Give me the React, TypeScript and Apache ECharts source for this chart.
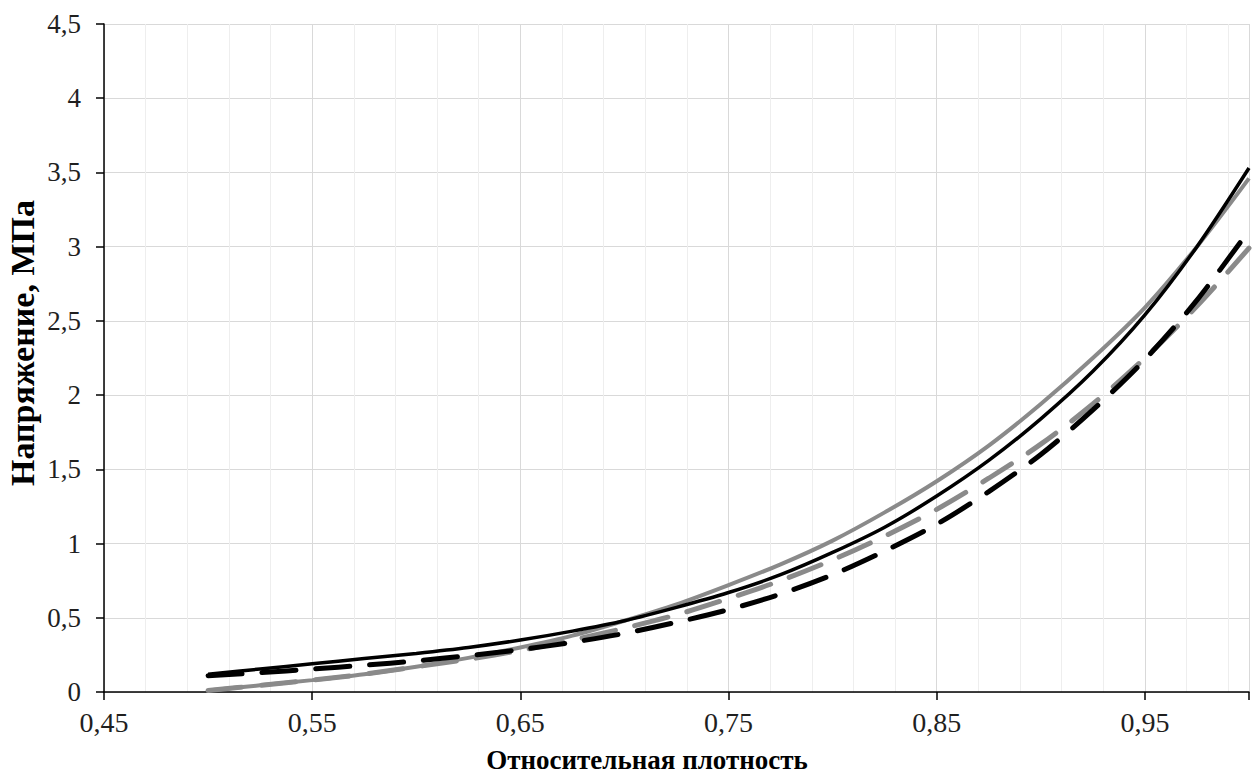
import React, { useEffect, useRef } from "react";
import * as echarts from "echarts";

const density = [
  0.5, 0.525, 0.55, 0.575, 0.6, 0.625, 0.65, 0.675, 0.7, 0.725, 0.75,
  0.775, 0.8, 0.825, 0.85, 0.875, 0.9, 0.925, 0.95, 0.975, 1.0,
];
const blackSolid = [
  0.12, 0.155, 0.19, 0.225, 0.26, 0.3, 0.35, 0.41, 0.48, 0.57, 0.67,
  0.79, 0.94, 1.11, 1.32, 1.56, 1.84, 2.16, 2.54, 3.0, 3.53,
];
const graySolid = [
  0.01, 0.045, 0.08, 0.12, 0.17, 0.23, 0.3, 0.38, 0.48, 0.59, 0.72,
  0.86, 1.02, 1.21, 1.42, 1.66, 1.94, 2.25, 2.59, 3.0, 3.46,
];
const blackDashed = [
  0.11, 0.13, 0.155, 0.18, 0.21, 0.245, 0.285, 0.335, 0.395, 0.47, 0.555,
  0.66, 0.79, 0.95, 1.13, 1.35, 1.6, 1.9, 2.24, 2.64, 3.11,
];
const grayDashed = [
  0.01, 0.045, 0.08, 0.12, 0.17, 0.22, 0.28, 0.35, 0.43, 0.52, 0.63,
  0.75, 0.89, 1.05, 1.23, 1.44, 1.67, 1.94, 2.25, 2.6, 2.99,
];

const xTitle = "Относительная плотность";
const yTitle = "Напряжение, МПа";

const pairs = (ys: number[]) => density.map((x, i) => [x, ys[i]]);

export default function App() {
  const ref = useRef<HTMLDivElement>(null);
  useEffect(() => {
    document.body.style.margin = "0";
    const chart = echarts.init(ref.current!, null, { renderer: "svg" });
    const font = "'Liberation Serif', 'Times New Roman', serif";
    const solid = (name: string, ys: number[], color: string, w: number) => ({
      name,
      type: "line",
      data: pairs(ys),
      smooth: 0.3,
      showSymbol: false,
      lineStyle: { color, width: w },
    });
    const dashed = (name: string, ys: number[], color: string) => ({
      name,
      type: "line",
      data: pairs(ys),
      smooth: 0.3,
      showSymbol: false,
      lineStyle: { color, width: 5, type: [34, 20], cap: "round" },
    });
    chart.setOption({
      animation: false,
      backgroundColor: "#ffffff",
      grid: { left: 104, top: 24, right: 2, bottom: 84 },
      xAxis: {
        type: "value",
        min: 0.45,
        max: 1.0,
        interval: 0.1,
        axisLine: { show: true, lineStyle: { color: "#000", width: 1.5 } },
        axisTick: { show: true, length: 8, lineStyle: { color: "#000", width: 1.5 } },
        axisLabel: {
          margin: 16,
          fontFamily: font,
          fontSize: 28,
          color: "#1f1f1f",
          formatter: (v: number) => (v > 0.99 ? "" : v.toFixed(2).replace(".", ",")),
        },
        splitLine: { show: true, lineStyle: { color: "#d9d9d9", width: 1 } },
        minorTick: { show: false, splitNumber: 5 },
        minorSplitLine: { show: true, lineStyle: { color: "#eeeeee", width: 1 } },
      },
      yAxis: {
        type: "value",
        min: 0,
        max: 4.5,
        interval: 0.5,
        axisLine: { show: true, lineStyle: { color: "#000", width: 1.5 } },
        axisTick: { show: true, length: 8, lineStyle: { color: "#000", width: 1.5 } },
        axisLabel: {
          margin: 23,
          fontFamily: font,
          fontSize: 27,
          color: "#1f1f1f",
          formatter: (v: number) => String(v).replace(".", ","),
        },
        splitLine: { show: true, lineStyle: { color: "#d9d9d9", width: 1 } },
      },
      graphic: [
        {
          type: "text",
          x: 647,
          y: 760,
          style: {
            text: xTitle,
            font: `bold 27px ${font}`,
            fill: "#000",
            textAlign: "center",
            textVerticalAlign: "middle",
          },
        },
        {
          type: "text",
          x: 22,
          y: 343,
          rotation: Math.PI / 2,
          style: {
            text: yTitle,
            font: `bold 34px ${font}`,
            fill: "#000",
            textAlign: "center",
            textVerticalAlign: "middle",
          },
        },
      ],
      series: [
        solid("gray solid", graySolid, "#8a8a8a", 4),
        dashed("gray dashed", grayDashed, "#8a8a8a"),
        solid("black solid", blackSolid, "#000000", 3.5),
        dashed("black dashed", blackDashed, "#000000"),
      ],
    });
    return () => chart.dispose();
  }, []);
  return <div ref={ref} style={{ width: 1252, height: 776 }} />;
}
